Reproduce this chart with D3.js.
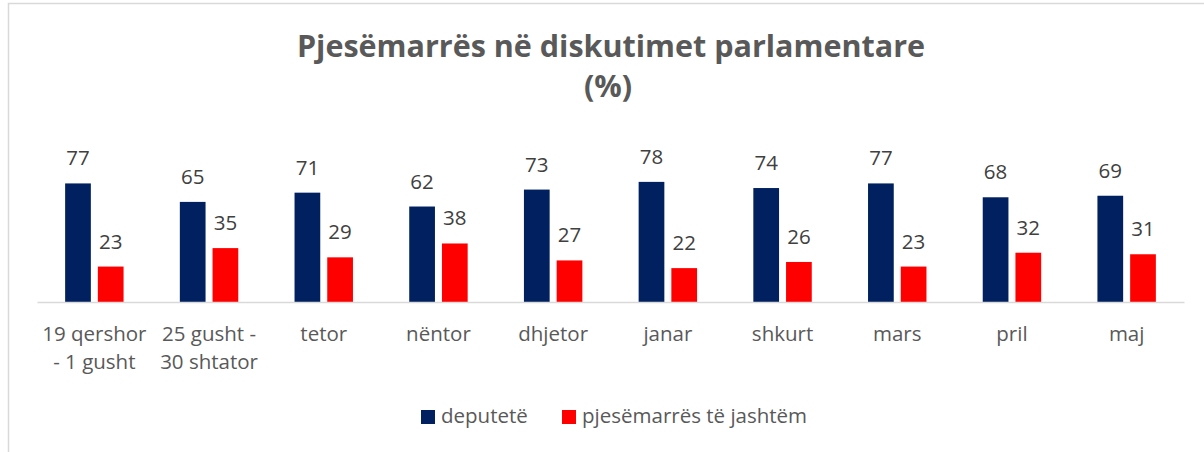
<!DOCTYPE html>
<html>
<head>
<meta charset="utf-8">
<script src="https://cdn.jsdelivr.net/npm/d3@7"></script>
<style>
  body { margin: 0; background: #fff; }
  text { font-family: "Open Sans", sans-serif; }
</style>
</head>
<body>
<div id="chart"></div>
<script>
// Data
var categories = ["19 qershor - 1 gusht", "25 gusht - 30 shtator", "tetor", "nëntor", "dhjetor",
    "janar", "shkurt", "mars", "pril", "maj"];
var tickLabels = [["19 qershor", "- 1 gusht"], ["25 gusht -", "30 shtator"], ["tetor"], ["nëntor"],
    ["dhjetor"], ["janar"], ["shkurt"], ["mars"], ["pril"], ["maj"]];
var deputete = [77, 65, 71, 62, 73, 78, 74, 77, 68, 69];
var jashtem = [23, 35, 29, 38, 27, 22, 26, 23, 32, 31];
var seriesNames = ["deputetë", "pjesëmarrës të jashtëm"];
var colors = ["#002060", "#ff0000"];

var svgWidth = 1204;
var svgHeight = 452;

var svg = d3.select("#chart")
    .append("svg")
    .attr("width", svgWidth)
    .attr("height", svgHeight);

// chart border (only left & top visible in the crop)
svg.append("path")
    .attr("d", "M8.5,452 L8.5,3.5 L1204,3.5")
    .attr("fill", "none")
    .attr("stroke", "#d9d9d9")
    .attr("stroke-width", 1.5);

// Title
var title = svg.append("text")
    .attr("text-anchor", "middle")
    .attr("fill", "#595959")
    .attr("font-weight", "bold")
    .attr("font-size", "30.5px");
title.append("tspan").attr("x", 611).attr("y", 57).text("Pjesëmarrës në diskutimet parlamentare");
title.append("tspan").attr("x", 608).attr("y", 97).text("(%)");

// Scales
var x = d3.scaleBand()
    .domain(categories)
    .range([37, 1184]);

var xSub = d3.scaleBand()
    .domain(seriesNames)
    .range([0, x.bandwidth()])
    .paddingInner(0.214)
    .paddingOuter(0.86);

var y = d3.scaleLinear()
    .domain([0, 100])
    .range([302, 148]);

var rows = categories.map(function(c, i) {
    return {cat: c, vals: [deputete[i], jashtem[i]]};
});

var groups = svg.append("g").selectAll("g")
    .data(rows)
    .enter()
    .append("g")
    .attr("transform", d => `translate(${x(d.cat)},0)`);

groups.selectAll("rect")
    .data(d => d.vals.map((v, k) => ({name: seriesNames[k], v: v, k: k})))
    .enter()
    .append("rect")
    .attr("x", d => xSub(d.name))
    .attr("y", d => y(d.v))
    .attr("width", xSub.bandwidth())
    .attr("height", d => y(0) - y(d.v))
    .attr("fill", d => colors[d.k]);

groups.selectAll("text.val")
    .data(d => d.vals.map((v, k) => ({name: seriesNames[k], v: v, k: k})))
    .enter()
    .append("text")
    .attr("class", "val")
    .attr("x", d => xSub(d.name) + xSub.bandwidth() / 2)
    .attr("y", d => y(d.v) - 18)
    .attr("text-anchor", "middle")
    .attr("fill", "#404040")
    .attr("font-size", "20.5px")
    .text(d => d.v);

// x axis line
var xAxis = d3.axisBottom(x).tickSize(0).tickFormat("");
var axisG = svg.append("g")
    .attr("transform", `translate(0, ${y(0)})`)
    .call(xAxis);
axisG.select(".domain")
    .attr("stroke", "#d9d9d9")
    .attr("stroke-width", 1.5);

// category labels
svg.append("g").selectAll("text")
    .data(categories)
    .enter()
    .append("text")
    .attr("text-anchor", "middle")
    .attr("fill", "#595959")
    .attr("font-size", "20.5px")
    .each(function(c, i) {
        var t = d3.select(this);
        tickLabels[i].forEach(function(line, j) {
            t.append("tspan")
                .attr("x", x(c) + x.bandwidth() / 2)
                .attr("y", 341 + j * 28)
                .text(line);
        });
    });

// Legend
var legendX = [421, 562];
var legend = svg.append("g").selectAll("g")
    .data(seriesNames)
    .enter()
    .append("g")
    .attr("transform", (d, i) => `translate(${legendX[i]}, 410)`);

legend.append("rect")
    .attr("width", 14)
    .attr("height", 14)
    .attr("fill", (d, i) => colors[i]);

legend.append("text")
    .attr("x", 20)
    .attr("y", 13)
    .attr("fill", "#595959")
    .attr("font-size", "20.5px")
    .text(d => d);
</script>
</body>
</html>
